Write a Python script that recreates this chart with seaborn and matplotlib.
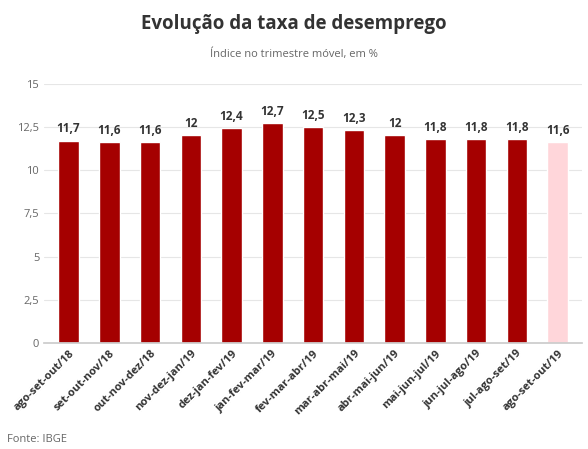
import matplotlib
matplotlib.use("Agg")
import matplotlib.pyplot as plt
import seaborn as sns
import pandas as pd

categories = ["ago-set-out/18","set-out-nov/18","out-nov-dez/18","nov-dez-jan/19","dez-jan-fev/19",
              "jan-fev-mar/19","fev-mar-abr/19","mar-abr-mai/19","abr-mai-jun/19","mai-jun-jul/19",
              "jun-jul-ago/19","jul-ago-set/19","ago-set-out/19"]
values = [11.7, 11.6, 11.6, 12, 12.4, 12.7, 12.5, 12.3, 12, 11.8, 11.8, 11.8, 11.6]
labels = ["11,7","11,6","11,6","12","12,4","12,7","12,5","12,3","12","11,8","11,8","11,8","11,6"]
yticks = [0, 2.5, 5, 7.5, 10, 12.5, 15]
yticklabels = ["0","2,5","5","7,5","10","12,5","15"]

sns.set_theme(style="white")
plt.rcParams['font.family'] = ['Open Sans', 'DejaVu Sans']
fig = plt.figure(figsize=(5.88, 4.49), dpi=100)
ax = fig.add_axes([0.075, 0.236, 0.915, 0.578])
df = pd.DataFrame({"cat": categories, "val": values})
colors = ["#a50000"] * 12 + ["#ffd6da"]
sns.barplot(data=df, x="cat", y="val", hue="cat", palette=colors, legend=False, ax=ax, width=0.5, saturation=1)
for i, (v, l) in enumerate(zip(values, labels)):
    ax.text(i, v + 0.3, l, ha="center", va="bottom", fontsize=8.5, fontweight="bold", color="#333333")
ax.set_ylim(0, 15)
ax.set_xlim(-0.6, 12.6)
ax.set_yticks(yticks)
ax.set_yticklabels(yticklabels, fontsize=8, color="#666666")
ax.yaxis.grid(True, color="#e6e6e6", linewidth=0.8)
ax.set_axisbelow(True)
for s in ["top", "right", "left"]:
    ax.spines[s].set_visible(False)
ax.spines["bottom"].set_color("#cccccc")
ax.tick_params(axis="y", length=0)
ax.tick_params(axis="x", length=0)
plt.setp(ax.get_xticklabels(), rotation=45, ha="right", rotation_mode="anchor", fontsize=8, fontweight="bold", color="#333333")
ax.set_xlabel("")
ax.set_ylabel("")
fig.text(0.5, 0.935, "Evolução da taxa de desemprego", ha="center", fontsize=13.5, fontweight="bold", color="#333333")
fig.text(0.5, 0.873, "Índice no trimestre móvel, em %", ha="center", fontsize=8, color="#666666")
fig.text(0.012, 0.015, "Fonte: IBGE", ha="left", fontsize=8, color="#666666")
fig.savefig("out.png", dpi=100, facecolor="white")
